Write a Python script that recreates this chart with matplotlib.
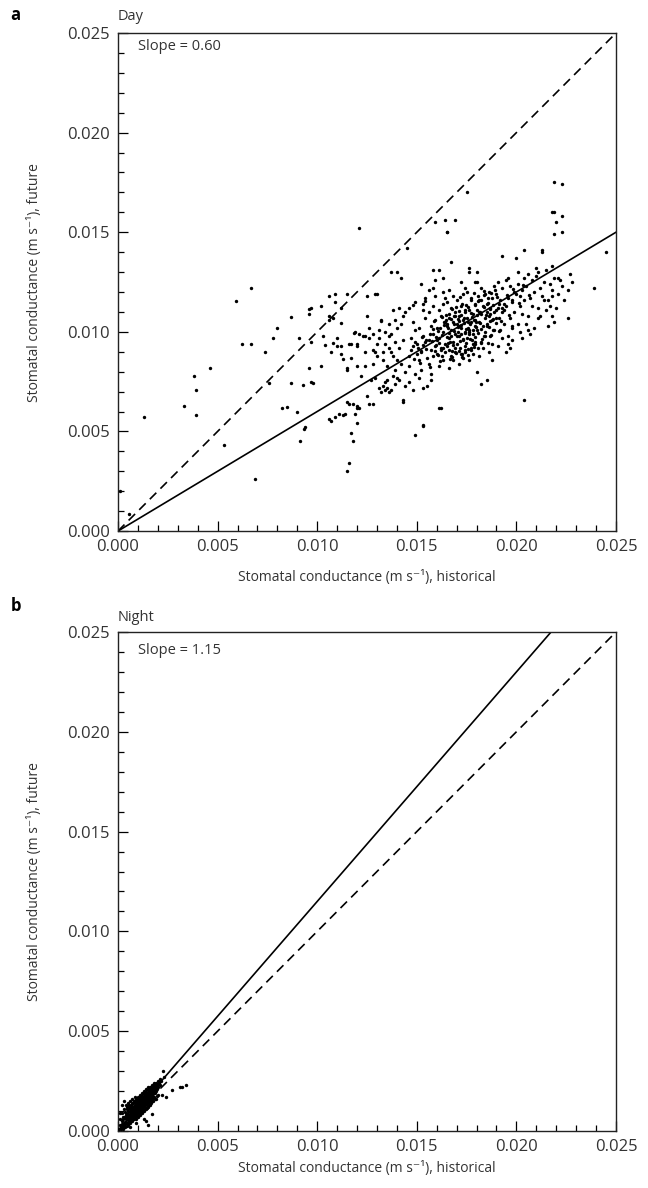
import matplotlib
matplotlib.use("Agg")
import matplotlib.pyplot as plt
from matplotlib.ticker import MultipleLocator, FormatStrFormatter

plt.rcParams['font.family'] = ['Open Sans', 'DejaVu Sans']

# ---------------- data ----------------
day_slope = 0.60
night_slope = 1.15
axis_max = 0.025
tick_values = [0.000, 0.005, 0.010, 0.015, 0.020, 0.025]

# (historical, future) stomatal conductance, daytime
day_points = [
    (0.0001, 0.0020), (0.00055, 0.00087), (0.0013, 0.0057), (0.0033, 0.0063), (0.0038, 0.0078),
    (0.0039, 0.0071), (0.0039, 0.00585), (0.0046, 0.0082), (0.0053, 0.0043), (0.0059, 0.01155),
    (0.0062, 0.0094), (0.0067, 0.0122), (0.0067, 0.0094), (0.0069, 0.0026), (0.0074, 0.0090),
    (0.0076, 0.00745), (0.0078, 0.0097), (0.0080, 0.0102), (0.00825, 0.0062), (0.0085, 0.00625),
    (0.0087, 0.01075), (0.0087, 0.00745), (0.0090, 0.0060), (0.0091, 0.0097), (0.00915, 0.0045),
    (0.0093, 0.00735), (0.00935, 0.0051), (0.0094, 0.0052), (0.0096, 0.01115), (0.0096, 0.0109),
    (0.0096, 0.0082), (0.0097, 0.0095), (0.0098, 0.00745), (0.0097, 0.0112), (0.0097, 0.0075),
    (0.0102, 0.0083), (0.0102, 0.0113), (0.0103, 0.0098), (0.0104, 0.00935), (0.01057, 0.0106),
    (0.0106, 0.0118), (0.0106, 0.0108), (0.0106, 0.0056), (0.0107, 0.0090), (0.0107, 0.0055),
    (0.0108, 0.00945), (0.0108, 0.0107), (0.0109, 0.0057), (0.0109, 0.0119), (0.0109, 0.0115),
    (0.0110, 0.0097), (0.0110, 0.0093), (0.0111, 0.0059), (0.0112, 0.01045), (0.0112, 0.0089),
    (0.0112, 0.0112), (0.0112, 0.0093), (0.0113, 0.00865), (0.0113, 0.0058), (0.0114, 0.0059),
    (0.0115, 0.0082), (0.0115, 0.0081), (0.0115, 0.0065), (0.0115, 0.0030), (0.0115, 0.0119),
    (0.0116, 0.0034), (0.0116, 0.0064), (0.0116, 0.0094), (0.0117, 0.0094), (0.0117, 0.0087),
    (0.0117, 0.0049), (0.0118, 0.0045), (0.0118, 0.0064), (0.0119, 0.0059), (0.0119, 0.0100),
    (0.01185, 0.00995), (0.0120, 0.0054), (0.0120, 0.0063), (0.0120, 0.0062), (0.0120, 0.0094),
    (0.0120, 0.0093), (0.0120, 0.0083), (0.0121, 0.0099), (0.0121, 0.0062), (0.0121, 0.0152),
    (0.0122, 0.0078), (0.0123, 0.0098), (0.0124, 0.0098), (0.0124, 0.0090), (0.0124, 0.0083),
    (0.0125, 0.0068), (0.0125, 0.0118), (0.0125, 0.0108), (0.0126, 0.0064), (0.0126, 0.0097),
    (0.0127, 0.0076), (0.0128, 0.0084), (0.0128, 0.0064), (0.0128, 0.0091), (0.0129, 0.0090),
    (0.0129, 0.0077), (0.0129, 0.0119), (0.0130, 0.0094), (0.0130, 0.0088), (0.0130, 0.0119),
    (0.0131, 0.0097), (0.0131, 0.0072), (0.0132, 0.0106), (0.0132, 0.01055), (0.0132, 0.0070),
    (0.0133, 0.0073), (0.0133, 0.0090), (0.0134, 0.0075), (0.0134, 0.0100), (0.0134, 0.0071),
    (0.0134, 0.0094), (0.0135, 0.0072), (0.0135, 0.0076), (0.0136, 0.0098), (0.0136, 0.0070),
    (0.0137, 0.0090), (0.0137, 0.0071), (0.0137, 0.0099), (0.0137, 0.0130), (0.0138, 0.0078),
    (0.0138, 0.0111), (0.0139, 0.0095), (0.0139, 0.0081), (0.0139, 0.0074), (0.0140, 0.0086),
    (0.0140, 0.0102), (0.0140, 0.0077), (0.0140, 0.0130), (0.0141, 0.0112), (0.0142, 0.0127),
    (0.0143, 0.0065), (0.0143, 0.0066), (0.0144, 0.0110), (0.0145, 0.0142), (0.0148, 0.01137),
    (0.0149, 0.0048), (0.0152, 0.0124), (0.0153, 0.0114), (0.0153, 0.0053), (0.0153, 0.00525),
    (0.0153, 0.0072), (0.0154, 0.01157), (0.0157, 0.0076), (0.0158, 0.0122), (0.0158, 0.0131),
    (0.0159, 0.0155), (0.0159, 0.0126), (0.0161, 0.0131), (0.0161, 0.0062), (0.0162, 0.0062),
    (0.0163, 0.0127), (0.01653, 0.0150), (0.0164, 0.0156), (0.0165, 0.0150), (0.0167, 0.0135),
    (0.0169, 0.0156), (0.0172, 0.0125), (0.0175, 0.0170), (0.0176, 0.0132), (0.0176, 0.0130),
    (0.0179, 0.0125), (0.0180, 0.0125), (0.0180, 0.0130), (0.0180, 0.0080), (0.0182, 0.0074),
    (0.0185, 0.0076), (0.0188, 0.0086), (0.0193, 0.0138), (0.0195, 0.0090), (0.0197, 0.0092),
    (0.0196, 0.0127), (0.0200, 0.0137), (0.0201, 0.0130), (0.0204, 0.0141), (0.0204, 0.0066),
    (0.0210, 0.0132), (0.0213, 0.0141), (0.0213, 0.0140), (0.0218, 0.0160), (0.0219, 0.0160),
    (0.0219, 0.0175), (0.0223, 0.0174), (0.0223, 0.0158), (0.0220, 0.0155), (0.0223, 0.0150),
    (0.0219, 0.0149), (0.0218, 0.0133), (0.0221, 0.0127), (0.0227, 0.0129), (0.0239, 0.0122),
    (0.0245, 0.0140), (0.0226, 0.0107), (0.0218, 0.0108), (0.0219, 0.0105), (0.0211, 0.0107),
    (0.0206, 0.0101), (0.0202, 0.0100), (0.0198, 0.0102), (0.0198, 0.0096), (0.0196, 0.0094),
    # dense cluster
    (0.0146, 0.0088), (0.0148, 0.0093), (0.0147, 0.0097), (0.0149, 0.0101), (0.0146, 0.0083),
    (0.0148, 0.0105), (0.0149, 0.0079), (0.0147, 0.0091), (0.0151, 0.0086), (0.0152, 0.0090),
    (0.0150, 0.0094), (0.0153, 0.0098), (0.0151, 0.0102), (0.0154, 0.0107), (0.0152, 0.0081),
    (0.0153, 0.0111), (0.0154, 0.0095), (0.0150, 0.0089), (0.0156, 0.0084), (0.0158, 0.0088),
    (0.0157, 0.0091), (0.0159, 0.0093), (0.0156, 0.0096), (0.0158, 0.0099), (0.0157, 0.0103),
    (0.0159, 0.0106), (0.0156, 0.0110), (0.0158, 0.0113), (0.0157, 0.0079), (0.0159, 0.0118),
    (0.0155, 0.0087), (0.0161, 0.0083), (0.0163, 0.0086), (0.0160, 0.0089), (0.0162, 0.0092),
    (0.0164, 0.0094), (0.0161, 0.0097), (0.0163, 0.0100), (0.0160, 0.0102), (0.0164, 0.0105),
    (0.0162, 0.0108), (0.0161, 0.0111), (0.0163, 0.0114), (0.0164, 0.0117), (0.0162, 0.0091),
    (0.0160, 0.0096), (0.0163, 0.0120), (0.0166, 0.0082), (0.0168, 0.0086), (0.0167, 0.0088),
    (0.0169, 0.0090), (0.0165, 0.0093), (0.0168, 0.0095), (0.0166, 0.0097), (0.0169, 0.0099),
    (0.0167, 0.0101), (0.0165, 0.0103), (0.0168, 0.0105), (0.0166, 0.0107), (0.0169, 0.0110),
    (0.0167, 0.0112), (0.0165, 0.0115), (0.0168, 0.0118), (0.0166, 0.0121), (0.0169, 0.0092),
    (0.0167, 0.0098), (0.0165, 0.0104), (0.0171, 0.0084), (0.0173, 0.0087), (0.0172, 0.0089),
    (0.0174, 0.0091), (0.0170, 0.0094), (0.0173, 0.0096), (0.0171, 0.0098), (0.0174, 0.0100),
    (0.0172, 0.0102), (0.0170, 0.0104), (0.0173, 0.0106), (0.0171, 0.0108), (0.0174, 0.0110),
    (0.0172, 0.0113), (0.0170, 0.0116), (0.0173, 0.0119), (0.0174, 0.0093), (0.0172, 0.0099),
    (0.0171, 0.0103), (0.0174, 0.0122), (0.0176, 0.0086), (0.0178, 0.0089), (0.0177, 0.0092),
    (0.0179, 0.0095), (0.0175, 0.0097), (0.0178, 0.0099), (0.0176, 0.0101), (0.0179, 0.0103),
    (0.0177, 0.0105), (0.0175, 0.0107), (0.0178, 0.0109), (0.0176, 0.0111), (0.0179, 0.0114),
    (0.0177, 0.0117), (0.0175, 0.0120), (0.0178, 0.0094), (0.0176, 0.0100), (0.0179, 0.0106),
    (0.0181, 0.0088), (0.0183, 0.0092), (0.0182, 0.0095), (0.0184, 0.0098), (0.0180, 0.0101),
    (0.0183, 0.0103), (0.0181, 0.0105), (0.0184, 0.0107), (0.0182, 0.0109), (0.0180, 0.0111),
    (0.0183, 0.0113), (0.0181, 0.0116), (0.0184, 0.0119), (0.0182, 0.0122), (0.0184, 0.0100),
    (0.0181, 0.0110), (0.0186, 0.0090), (0.0188, 0.0094), (0.0187, 0.0098), (0.0189, 0.0101),
    (0.0185, 0.0104), (0.0188, 0.0106), (0.0186, 0.0108), (0.0189, 0.0110), (0.0187, 0.0112),
    (0.0185, 0.0114), (0.0188, 0.0117), (0.0186, 0.0120), (0.0189, 0.0123), (0.0187, 0.0109),
    (0.0191, 0.0093), (0.0193, 0.0097), (0.0192, 0.0101), (0.0194, 0.0104), (0.0190, 0.0107),
    (0.0193, 0.0110), (0.0191, 0.0112), (0.0194, 0.0114), (0.0192, 0.0116), (0.0190, 0.0119),
    (0.0193, 0.0122), (0.0191, 0.0125), (0.0194, 0.0111), (0.0196, 0.0098), (0.0198, 0.0103),
    (0.0197, 0.0107), (0.0199, 0.0110), (0.0195, 0.0113), (0.0198, 0.0115), (0.0196, 0.0117),
    (0.0199, 0.0120), (0.0197, 0.0123), (0.0195, 0.0126), (0.0198, 0.0116), (0.0201, 0.0104),
    (0.0203, 0.0109), (0.0202, 0.0113), (0.0204, 0.0116), (0.0200, 0.0119), (0.0203, 0.0121),
    (0.0201, 0.0124), (0.0204, 0.0127), (0.0202, 0.0118), (0.0206, 0.0108), (0.0208, 0.0113),
    (0.0207, 0.0117), (0.0209, 0.0120), (0.0205, 0.0123), (0.0208, 0.0126), (0.0206, 0.0129),
    (0.0211, 0.0112), (0.0213, 0.0118), (0.0212, 0.0122), (0.0214, 0.0125), (0.0210, 0.0128),
    (0.0216, 0.0116), (0.0218, 0.0121), (0.0217, 0.0124), (0.0219, 0.0127), (0.0221, 0.0119),
    (0.0223, 0.0123), (0.0222, 0.0126), (0.0226, 0.0121), (0.0228, 0.0125),
    (0.01655, 0.00945), (0.01685, 0.01005), (0.01715, 0.00955), (0.01745, 0.01015), (0.01765, 0.00965),
    (0.01795, 0.01025), (0.01625, 0.00985), (0.01595, 0.00935), (0.01705, 0.01065), (0.01735, 0.01045),
    (0.01775, 0.01075), (0.01815, 0.01045), (0.01845, 0.01085), (0.01865, 0.01025), (0.01885, 0.01065),
    (0.01675, 0.00905), (0.01725, 0.00875), (0.01755, 0.00915), (0.01635, 0.01035), (0.01605, 0.01005),
    (0.01575, 0.00955), (0.01545, 0.00915), (0.01695, 0.01125), (0.01745, 0.01135), (0.01805, 0.01155),
    (0.01855, 0.01145), (0.01905, 0.01175), (0.01955, 0.01185), (0.01925, 0.01055), (0.01875, 0.00985),
    (0.01825, 0.00965), (0.01785, 0.00925), (0.01665, 0.00865), (0.01615, 0.00855), (0.01565, 0.00825),
    (0.01515, 0.00845), (0.01485, 0.00865), (0.01525, 0.00975), (0.01585, 0.01055), (0.01645, 0.01085),
    (0.01715, 0.01175), (0.01785, 0.01195), (0.01835, 0.01205), (0.01985, 0.01215), (0.02035, 0.01235),
    (0.02065, 0.01185), (0.02015, 0.01145), (0.01965, 0.01085), (0.01915, 0.01005), (0.01855, 0.00945),
    (0.01612, 0.00942), (0.01634, 0.00918), (0.01651, 0.00973), (0.01668, 0.00951), (0.01683, 0.00932),
    (0.01702, 0.00978), (0.01718, 0.00921), (0.01731, 0.00962), (0.01749, 0.00944), (0.01762, 0.00987),
    (0.01778, 0.00958), (0.01793, 0.00972), (0.01808, 0.00994), (0.01821, 0.01012), (0.01839, 0.00978),
    (0.01852, 0.01031), (0.01868, 0.01052), (0.01882, 0.01008), (0.01897, 0.01043), (0.01912, 0.01071),
    (0.01618, 0.01021), (0.01637, 0.01049), (0.01655, 0.01018), (0.01672, 0.01063), (0.01689, 0.01041),
    (0.01707, 0.01022), (0.01723, 0.01084), (0.01738, 0.01068), (0.01756, 0.01049), (0.01771, 0.01093),
    (0.01787, 0.01058), (0.01803, 0.01082), (0.01819, 0.01101), (0.01836, 0.01124), (0.01851, 0.01098),
    (0.01866, 0.01117), (0.01881, 0.01133), (0.01896, 0.01109), (0.01914, 0.01142), (0.01928, 0.01121),
    (0.01592, 0.00904), (0.01608, 0.00886), (0.01627, 0.00878), (0.01643, 0.00897), (0.01661, 0.00911),
    (0.01678, 0.00874), (0.01696, 0.00893), (0.01713, 0.00906), (0.01727, 0.00889), (0.01744, 0.00897),
    (0.01759, 0.00882), (0.01774, 0.00908), (0.01791, 0.00937), (0.01806, 0.00921), (0.01824, 0.00942),
    (0.01661, 0.01092), (0.01678, 0.01114), (0.01694, 0.01081), (0.01711, 0.01103), (0.01726, 0.01141),
    (0.01743, 0.01112), (0.01759, 0.01127), (0.01773, 0.01158), (0.01791, 0.01136), (0.01806, 0.01179),
    (0.01822, 0.01162), (0.01838, 0.01187), (0.01857, 0.01171), (0.01874, 0.01193), (0.01893, 0.01211),
    (0.01705, 0.01001), (0.01722, 0.01034), (0.01741, 0.00993), (0.01758, 0.01021), (0.01769, 0.01038),
    (0.01782, 0.01009), (0.01797, 0.01049), (0.01713, 0.01056), (0.01686, 0.01079), (0.01664, 0.00995),
    (0.01646, 0.01061), (0.01628, 0.01076), (0.01596, 0.00973), (0.01583, 0.01013), (0.01567, 0.00989),
    (0.01548, 0.00961), (0.01532, 0.00934), (0.01519, 0.00902), (0.01504, 0.00918), (0.01489, 0.00951),
    (0.0126, 0.0102), (0.0128, 0.0099), (0.0131, 0.0101), (0.0133, 0.0086), (0.0135, 0.0083),
    (0.0136, 0.0092), (0.0138, 0.0088), (0.0141, 0.0092), (0.0142, 0.0084), (0.0143, 0.0096),
    (0.0144, 0.0080), (0.0141, 0.0076), (0.0144, 0.0073), (0.0146, 0.0075), (0.0142, 0.0104),
    (0.0139, 0.0106), (0.0136, 0.0104), (0.0143, 0.0108), (0.0146, 0.0112), (0.0149, 0.0115),
    (0.0151, 0.0077), (0.0155, 0.0073), (0.0148, 0.0071), (0.0156, 0.0121), (0.0154, 0.0117),
    (0.0205, 0.0104), (0.0209, 0.0102), (0.0212, 0.0108), (0.0215, 0.0111), (0.0217, 0.0113),
    (0.0214, 0.0116), (0.0216, 0.0103), (0.0207, 0.0099), (0.0203, 0.0097), (0.0211, 0.0130),
    (0.0215, 0.0131), (0.0224, 0.0116), (0.0218, 0.0118), (0.0220, 0.0112),
]

# (historical, future) stomatal conductance, night-time
night_points = [
    (0.00005, 0.0001), (0.0001, 0.0003), (0.00015, 0.0002), (0.0002, 0.0005), (0.0002, 0.0009),
    (0.00025, 0.0001), (0.0003, 0.0004), (0.0003, 0.0007), (0.0003, 0.0011), (0.00035, 0.0002),
    (0.0004, 0.0006), (0.0004, 0.0009), (0.0004, 0.0013), (0.00045, 0.0004), (0.00045, 0.0011),
    (0.0005, 0.0003), (0.0005, 0.0007), (0.0005, 0.0010), (0.0005, 0.0014), (0.00012, 0.0006),
    (0.00022, 0.0013), (0.00032, 0.0015), (0.00008, 0.0009), (0.00028, 0.0002), (0.00038, 0.0008),
    (0.00055, 0.0005), (0.00055, 0.0012), (0.0006, 0.0004), (0.0006, 0.0008), (0.0006, 0.0011),
    (0.0006, 0.0015), (0.00065, 0.0006), (0.00065, 0.0009), (0.00065, 0.0013), (0.0007, 0.0005),
    (0.0007, 0.0008), (0.0007, 0.0010), (0.0007, 0.0012), (0.0007, 0.0016), (0.00075, 0.0007),
    (0.00075, 0.0009), (0.00075, 0.0011), (0.00075, 0.0014), (0.0008, 0.0006), (0.0008, 0.0008),
    (0.0008, 0.0010), (0.0008, 0.0012), (0.0008, 0.0015), (0.00085, 0.0007), (0.00085, 0.0009),
    (0.00085, 0.0011), (0.00085, 0.0013), (0.00085, 0.0017), (0.0009, 0.0006), (0.0009, 0.0008),
    (0.0009, 0.0010), (0.0009, 0.0012), (0.0009, 0.0014), (0.0009, 0.0016), (0.00095, 0.0009),
    (0.00095, 0.0011), (0.00095, 0.0013), (0.00095, 0.0015), (0.00058, 0.00095), (0.00068, 0.00115),
    (0.00078, 0.00125), (0.00088, 0.00105), (0.00098, 0.00125), (0.00062, 0.00065), (0.00072, 0.00085),
    (0.0010, 0.0007), (0.0010, 0.0010), (0.0010, 0.0012), (0.0010, 0.0014), (0.0010, 0.0017),
    (0.00105, 0.0009), (0.00105, 0.0011), (0.00105, 0.0013), (0.00105, 0.0015), (0.0011, 0.0008),
    (0.0011, 0.0011), (0.0011, 0.0013), (0.0011, 0.0015), (0.0011, 0.0018), (0.00115, 0.0010),
    (0.00115, 0.0012), (0.00115, 0.0014), (0.00115, 0.0016), (0.0012, 0.0009), (0.0012, 0.0012),
    (0.0012, 0.0014), (0.0012, 0.0016), (0.0012, 0.0019), (0.00125, 0.0011), (0.00125, 0.0013),
    (0.00125, 0.0015), (0.00125, 0.0017), (0.0013, 0.0010), (0.0013, 0.0013), (0.0013, 0.0015),
    (0.0013, 0.0017), (0.0013, 0.0020), (0.00135, 0.0012), (0.00135, 0.0014), (0.00135, 0.0016),
    (0.00135, 0.0018), (0.0014, 0.0011), (0.0014, 0.0014), (0.0014, 0.0016), (0.0014, 0.0018),
    (0.0014, 0.0021), (0.00145, 0.0013), (0.00145, 0.0015), (0.00145, 0.0017), (0.00145, 0.0019),
    (0.00108, 0.00125), (0.00118, 0.00135), (0.00128, 0.00145), (0.00138, 0.00155), (0.00148, 0.00165),
    (0.00112, 0.00155), (0.00132, 0.00185),
    (0.0015, 0.0012), (0.0015, 0.0015), (0.0015, 0.0017), (0.0015, 0.0019), (0.0015, 0.0022),
    (0.00155, 0.0014), (0.00155, 0.0016), (0.00155, 0.0018), (0.00155, 0.0020), (0.0016, 0.0013),
    (0.0016, 0.0016), (0.0016, 0.0018), (0.0016, 0.0020), (0.0016, 0.0022), (0.00165, 0.0015),
    (0.00165, 0.0017), (0.00165, 0.0019), (0.00165, 0.0021), (0.0017, 0.0016), (0.0017, 0.0018),
    (0.0017, 0.0020), (0.0017, 0.0023), (0.00175, 0.0017), (0.00175, 0.0019), (0.00175, 0.0021),
    (0.0018, 0.0017), (0.0018, 0.0020), (0.0018, 0.0022), (0.0018, 0.0024), (0.00185, 0.0019),
    (0.00185, 0.0021), (0.00185, 0.0023), (0.0019, 0.0020), (0.0019, 0.0022), (0.0019, 0.0024),
    (0.00195, 0.0021), (0.00195, 0.0023), (0.0020, 0.0022), (0.0020, 0.0025), (0.00205, 0.0024),
    (0.0021, 0.0023), (0.0021, 0.0026), (0.00215, 0.0025),
    (0.00227, 0.0030), (0.0027, 0.00205), (0.0031, 0.0022), (0.0032, 0.0022), (0.0034, 0.0023),
    (0.0020, 0.0018), (0.0022, 0.0018), (0.0013, 0.0006), (0.0014, 0.0005), (0.0015, 0.0003),
    (0.0017, 0.00085), (0.0023, 0.0027), (0.0024, 0.0017), (0.0006, 0.0002), (0.0009, 0.0004),
    (0.0019, 0.0016),
    (0.00018, 0.00035), (0.00027, 0.00058), (0.00034, 0.00046), (0.00041, 0.00071), (0.00048, 0.00055),
    (0.00052, 0.00086), (0.00059, 0.00072), (0.00063, 0.00101), (0.00067, 0.00078), (0.00071, 0.00094),
    (0.00077, 0.00083), (0.00082, 0.00097), (0.00086, 0.00118), (0.00091, 0.00102), (0.00096, 0.00117),
    (0.00101, 0.00121), (0.00106, 0.00104), (0.00111, 0.00128), (0.00116, 0.00119), (0.00121, 0.00133),
    (0.00126, 0.00141), (0.00131, 0.00128), (0.00136, 0.00149), (0.00141, 0.00152), (0.00146, 0.00161),
    (0.00151, 0.00168), (0.00156, 0.00174), (0.00161, 0.00181), (0.00166, 0.00186), (0.00171, 0.00192),
    (0.00176, 0.00201), (0.00181, 0.00207), (0.00186, 0.00214), (0.00191, 0.00218), (0.00196, 0.00226),
    (0.00024, 0.00072), (0.00036, 0.00094), (0.00043, 0.00118), (0.00057, 0.00131), (0.00069, 0.00141),
    (0.00079, 0.00148), (0.00089, 0.00152), (0.00099, 0.00161), (0.00109, 0.00169), (0.00119, 0.00176),
    (0.00129, 0.00189), (0.00139, 0.00196), (0.00149, 0.00203), (0.00159, 0.00212), (0.00169, 0.00219),
    (0.00179, 0.00229),
    (0.00054, 0.00038), (0.00064, 0.00052), (0.00074, 0.00061), (0.00084, 0.00068), (0.00094, 0.00073),
    (0.00104, 0.00082), (0.00114, 0.00091), (0.00124, 0.00099), (0.00134, 0.00108), (0.00144, 0.00116),
    (0.00154, 0.00128), (0.00164, 0.00138), (0.00174, 0.00149), (0.00184, 0.00161), (0.00194, 0.00173),
    (0.00014, 0.00012), (0.00021, 0.00021), (0.00031, 0.00027), (0.00037, 0.00033), (0.00047, 0.00024),
]

panels = [
    dict(points=day_points, slope=day_slope, letter='a', title='Day',
         slope_text='Slope = 0.60', rect=[0.1821, 0.5530, 0.7685, 0.4192],
         letter_y=0.9874, title_y=0.9857, xlabel_y=0.5135, ylabel_y=0.7618, slope_y=0.972),
    dict(points=night_points, slope=night_slope, letter='b', title='Night',
         slope_text='Slope = 1.15', rect=[0.1821, 0.0480, 0.7685, 0.4200],
         letter_y=0.4899, title_y=0.4806, xlabel_y=0.0168, ylabel_y=0.2576, slope_y=0.962),
]

fig = plt.figure(figsize=(6.48, 11.88), dpi=100)

for p in panels:
    ax = fig.add_axes(p['rect'])
    xs = [pt[0] for pt in p['points']]
    ys = [pt[1] for pt in p['points']]
    ax.scatter(xs, ys, s=6, c='black', marker='o', linewidths=0, zorder=3)
    # 1:1 line (dashed) and fitted line (solid)
    ax.plot([0, axis_max], [0, axis_max], color='black', lw=1.2,
            linestyle=(0, (5.5, 3.5)), zorder=2)
    ax.plot([0, axis_max], [0, p['slope'] * axis_max], color='black', lw=1.2, zorder=2)

    ax.set_xlim(0, axis_max)
    ax.set_ylim(0, axis_max)
    ax.set_xticks(tick_values)
    ax.set_yticks(tick_values)
    ax.xaxis.set_minor_locator(MultipleLocator(0.001))
    ax.yaxis.set_minor_locator(MultipleLocator(0.001))
    ax.xaxis.set_major_formatter(FormatStrFormatter('%.3f'))
    ax.yaxis.set_major_formatter(FormatStrFormatter('%.3f'))
    ax.tick_params(which='both', direction='in', top=False, right=False,
                   width=0.9, colors='black', labelcolor='#333333')
    ax.tick_params(which='major', length=7, labelsize=12, pad=6)
    ax.tick_params(which='minor', length=4)
    for sp in ax.spines.values():
        sp.set_linewidth(1.0)
        sp.set_color('#222222')

    ax.text(0.04, p['slope_y'], p['slope_text'],
            transform=ax.transAxes, fontsize=10.5, va='center', ha='left', color='#333333')

    fig.text(0.016, p['letter_y'], p['letter'], fontsize=12, fontweight='bold',
             va='center', ha='left')
    fig.text(0.1821, p['title_y'], p['title'], fontsize=10.5, va='center', ha='left',
             color='#333333')
    fig.text(0.566, p['xlabel_y'], 'Stomatal conductance (m s\u207b\u00b9), historical',
             fontsize=10, va='center', ha='center', color='#333333')
    fig.text(0.054, p['ylabel_y'], 'Stomatal conductance (m s\u207b\u00b9), future',
             fontsize=10, va='center', ha='center', rotation=90, color='#333333')

fig.savefig('out.png', dpi=100)
